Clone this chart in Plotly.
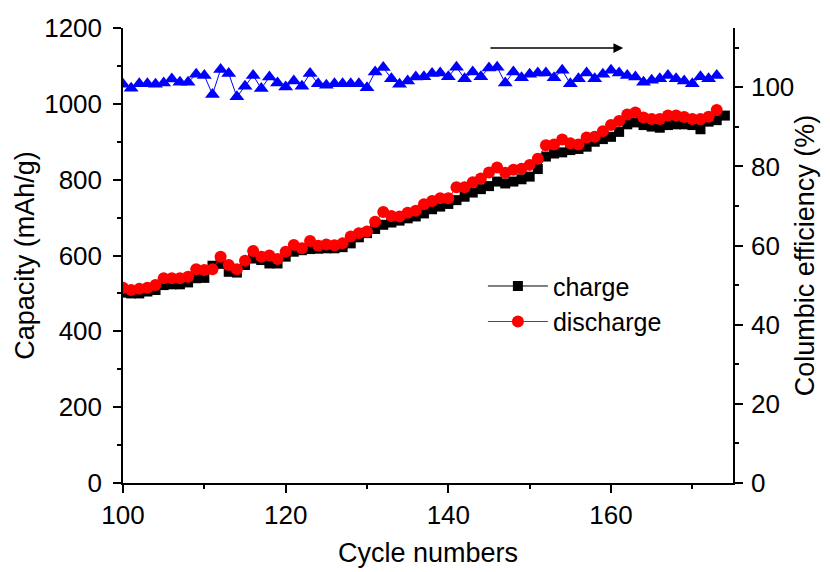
import plotly.graph_objects as go

cycles_charge = list(range(100, 175))
cycles_dis = list(range(100, 174))
cycles_eff = list(range(100, 174))

charge = [502, 500, 500, 505, 509, 522, 524, 524, 529, 540, 541, 573, 578, 557, 555, 575, 592, 588, 579, 579, 597, 610, 614, 617, 618,
          619, 619, 622, 632, 648, 659, 670, 681, 687, 692, 698, 703, 711, 722, 729, 736, 746, 755, 766, 775, 783, 795, 790, 795, 801,
          808, 828, 861, 869, 872, 878, 881, 887, 900, 907, 913, 926, 946, 951, 944, 940, 937, 944, 946, 946, 944, 933, 953, 957, 969]

discharge = [515, 509, 512, 515, 522, 540, 540, 540, 544, 564, 562, 564, 597, 575, 564, 586, 612, 597, 600, 591, 610, 628, 619, 638, 626,
             629, 627, 632, 650, 659, 663, 689, 715, 704, 703, 713, 718, 735, 744, 751, 751, 780, 780, 793, 803, 819, 832, 818, 826, 829,
             839, 855, 891, 893, 906, 896, 893, 911, 913, 928, 944, 955, 972, 977, 964, 960, 960, 969, 969, 965, 960, 960, 966, 984]

efficiency = [100.8, 99.8, 100.9, 100.9, 100.8, 101.1, 102.1, 101.3, 101.3, 103.3, 103.0, 98.2, 104.5, 103.5, 97.6, 100.3, 103.0, 99.7,
              102.6, 101.1, 100.1, 101.6, 100.3, 103.5, 100.9, 100.5, 100.9, 100.9, 100.9, 100.9, 99.9, 103.9, 105.0, 102.2, 100.8,
              101.6, 102.6, 102.7, 103.5, 103.6, 102.7, 105.1, 102.2, 103.9, 102.7, 104.9, 105.1, 101.1, 103.9, 102.4, 103.3, 103.6,
              103.6, 102.4, 104.3, 100.9, 102.2, 103.6, 102.2, 103.3, 104.3, 103.6, 103.0, 102.6, 101.3, 101.8, 102.2, 103.0, 102.2,
              101.6, 100.9, 102.7, 102.2, 103.0]

FONT = "Liberation Sans, Arial, sans-serif"
TICK_FONT = dict(family=FONT, size=26, color="black")
TITLE_FONT = dict(family=FONT, size=27, color="black")

fig = go.Figure()
fig.add_trace(go.Scatter(x=cycles_charge, y=charge, name="charge", mode="lines+markers",
                         line=dict(color="black", width=1),
                         marker=dict(symbol="square", size=10, color="black")))
fig.add_trace(go.Scatter(x=cycles_dis, y=discharge, name="discharge", mode="lines+markers",
                         line=dict(color="red", width=1),
                         marker=dict(symbol="circle", size=12, color="red")))
fig.add_trace(go.Scatter(x=cycles_eff, y=efficiency, name="efficiency", mode="lines+markers",
                         yaxis="y2", showlegend=False,
                         line=dict(color="blue", width=1),
                         marker=dict(symbol="triangle-up", size=13, color="blue")))

axis_common = dict(showline=True, linecolor="black", linewidth=1.5, showgrid=False, zeroline=False,
                   ticks="outside", ticklen=8, tickwidth=1.5, tickcolor="black", tickfont=TICK_FONT,
                   automargin=False)
minor_common = dict(ticks="outside", ticklen=4, tickwidth=1.5, tickcolor="black")

fig.update_layout(
    width=830, height=572,
    margin=dict(l=123, r=97, t=28, b=89),
    paper_bgcolor="white", plot_bgcolor="white",
    font=dict(family=FONT, color="black"),
    xaxis=dict(range=[100, 175], tick0=100, dtick=20, minor=dict(dtick=10, **minor_common),
               title=dict(text="Cycle numbers", font=TITLE_FONT, standoff=14),
               **axis_common),
    xaxis2=dict(range=[100, 175], overlaying="x", side="top", anchor="y", matches="x",
                showticklabels=False, showline=True, linecolor="black", linewidth=1.5,
                showgrid=False, zeroline=False, ticks="outside", ticklen=4, tickwidth=1.5,
                tickcolor="black", tick0=100, dtick=10, automargin=False),
    yaxis=dict(range=[0, 1200], tick0=0, dtick=200, minor=dict(dtick=100, **minor_common),
               ticklabelstandoff=6,
               title=dict(text="Capacity (mAh/g)", font=TITLE_FONT, standoff=2),
               **axis_common),
    yaxis2=dict(range=[0, 115], tick0=0, dtick=20, overlaying="y", side="right", anchor="x",
                minor=dict(dtick=10, **minor_common), ticklabelstandoff=3,
                title=dict(text="Columbic efficiency (%)", font=TITLE_FONT, standoff=2),
                **axis_common),
    legend=dict(x=0.59, y=0.483, xanchor="left", yanchor="top", bgcolor="rgba(0,0,0,0)",
                font=dict(family=FONT, size=25, color="black"), itemwidth=60, tracegroupgap=0),
    showlegend=True,
)

fig.add_annotation(x=161.5, y=1147, ax=145, ay=1147, xref="x", yref="y", axref="x", ayref="y",
                   showarrow=True, arrowhead=2, arrowsize=1.3, arrowwidth=1.5, arrowcolor="black", text="")

fig.write_html("out.html")
